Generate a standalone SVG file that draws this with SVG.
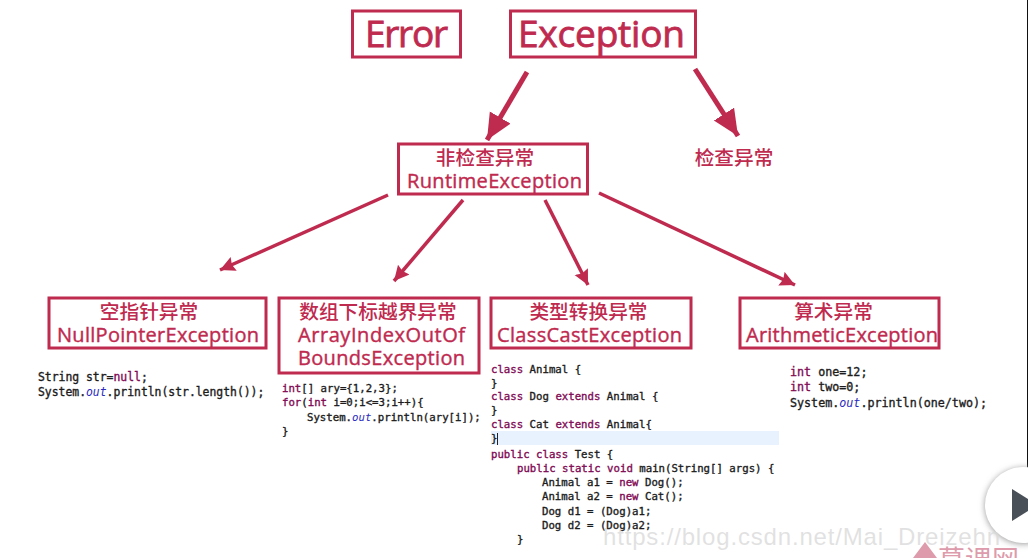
<svg xmlns="http://www.w3.org/2000/svg" width="1028" height="558" viewBox="0 0 1028 558">
<style>
.box{fill:none;stroke:#bf2a4f;stroke-width:3}
.t{fill:#bf2a4f;font-family:"Open Sans","Noto Sans CJK SC",sans-serif;text-anchor:middle;font-weight:500}
.l{font-size:20px;stroke:#bf2a4f;stroke-width:.4}.b{font-size:37px;stroke:#bf2a4f;stroke-width:.8}.cj{font-size:19.7px;font-weight:500}
.c{fill:#1c1c1c;font-family:"DejaVu Sans Mono","Noto Sans CJK SC",monospace;font-size:11.4px;stroke:#1c1c1c;stroke-width:.35}
.n{font-size:10.7px}.w{font-size:11.7px}
.k{fill:#7f0a55;stroke:#7f0a55}.o{fill:#2a2ac0;stroke:#2a2ac0;font-style:italic;stroke-width:0}
.a{stroke:#bf2a4f;stroke-width:5;fill:none;marker-end:url(#h)}
.s{stroke:#bf2a4f;stroke-width:3.5;fill:none;marker-end:url(#j)}
</style>
<defs>
<marker id="h" markerUnits="userSpaceOnUse" markerWidth="30" markerHeight="30" refX="26" refY="12" orient="auto"><path d="M0 0L26 12L0 24Z" fill="#bf2a4f"/></marker>
<marker id="j" markerUnits="userSpaceOnUse" markerWidth="20" markerHeight="20" refX="15" refY="8" orient="auto"><path d="M0 0.500L15 8L0 15.500L2 8Z" fill="#bf2a4f"/></marker>
<filter id="sh" x="-30%" y="-30%" width="160%" height="160%"><feGaussianBlur stdDeviation="3"/></filter>
</defs>
<rect width="1028" height="558" fill="#fff"/>
<path d="M1027.500 0V470" stroke="#111" fill="none"/>
<g id="connectors">
<path class="a" d="M527 72L487 140"/>
<path class="a" d="M695 69L738 136"/>
<path class="s" d="M388 195L220 270"/>
<path class="s" d="M463 200L394 281"/>
<path class="s" d="M545 200L588 285"/>
<path class="s" d="M599 193L795 285"/>
</g>
<g id="error"><rect class="box" x="352.500" y="11" width="108" height="46"/><text class="t b" x="406.500" y="47" textLength="83">Error</text></g>
<g id="exception"><rect class="box" x="510.500" y="11" width="185" height="46"/><text class="t b" x="601.500" y="47" textLength="167">Exception</text></g>
<g id="runtime"><rect class="box" x="398.500" y="144" width="189" height="50"/><text class="t cj" x="485" y="165">非检查异常</text><text class="t l" x="494.500" y="188" textLength="175">RuntimeException</text></g>
<g id="checked"><text class="t cj" x="734" y="165">检查异常</text></g>
<g id="npe"><rect class="box" x="49" y="298" width="217" height="50"/><text class="t cj" x="149" y="319">空指针异常</text><text class="t l" x="158" y="342" textLength="202">NullPointerException</text></g>
<g id="aioobe"><rect class="box" x="279" y="298" width="200" height="75"/><text class="t cj" x="378" y="319">数组下标越界异常</text><text class="t l" x="381.500" y="342" textLength="167">ArrayIndexOutOf</text><text class="t l" x="381.500" y="365" textLength="167">BoundsException</text></g>
<g id="cce"><rect class="box" x="491" y="298" width="200" height="50"/><text class="t cj" x="588.500" y="319">类型转换异常</text><text class="t l" x="589.500" y="342" textLength="185">ClassCastException</text></g>
<g id="ae"><rect class="box" x="740" y="298" width="199" height="50"/><text class="t cj" x="833.500" y="319">算术异常</text><text class="t l" x="842" y="342" textLength="192">ArithmeticException</text></g>
<g id="code1"><text class="c" x="38" y="381">String str=<tspan class="k">null</tspan>;</text><text class="c" x="38" y="396">System.<tspan class="o">out</tspan>.println(str.length());</text></g>
<g id="code2"><text class="c n" x="282" y="392"><tspan class="k">int</tspan>[] ary={1,2,3};</text><text class="c n" x="282" y="406"><tspan class="k">for</tspan>(<tspan class="k">int</tspan> i=0;i&lt;=3;i++){</text><text class="c n" x="307" y="421">System.<tspan class="o">out</tspan>.println(ary[i]);</text><text class="c n" x="282" y="435">}</text></g>
<g id="code3"><rect x="491" y="431" width="288" height="14" fill="#e8f2fe"/>
<text class="c n" x="491" y="373"><tspan class="k">class</tspan> Animal {</text><text class="c n" x="491" y="387">}</text><text class="c n" x="491" y="400"><tspan class="k">class</tspan> Dog <tspan class="k">extends</tspan> Animal {</text><text class="c n" x="491" y="414">}</text><text class="c n" x="491" y="428"><tspan class="k">class</tspan> Cat <tspan class="k">extends</tspan> Animal{</text><text class="c n" x="491" y="442">}</text><path d="M497.500 433V445" stroke="#222"/>
<text class="c n" x="491" y="458"><tspan class="k">public class</tspan> Test {</text><text class="c n" x="517" y="472"><tspan class="k">public static void</tspan> main(String[] args) {</text><text class="c n" x="542" y="486">Animal a1 = <tspan class="k">new</tspan> Dog();</text><text class="c n" x="542" y="500">Animal a2 = <tspan class="k">new</tspan> Cat();</text><text class="c n" x="542" y="515">Dog d1 = (Dog)a1;</text><text class="c n" x="542" y="529">Dog d2 = (Dog)a2;</text><text class="c n" x="517" y="543">}</text></g>
<g id="code4"><text class="c w" x="790" y="376"><tspan class="k">int</tspan> one=12;</text><text class="c w" x="790" y="391"><tspan class="k">int</tspan> two=0;</text><text class="c w" x="790" y="407">System.<tspan class="o">out</tspan>.println(one/two);</text></g>
<circle cx="1023" cy="506" r="38" fill="#999" filter="url(#sh)"/>
<circle cx="1023" cy="505" r="38" fill="#fff"/>
<path d="M1012 489L1028 499V511L1012 521Z" fill="#4a5058"/>
<text x="938" y="570" font-size="27" fill="#dd9bab" font-family="Noto Sans CJK SC,sans-serif">慕课网</text>
<path d="M913 558L925 542L937 558Z" fill="#dd9bab"/>
<text x="603" y="545" font-size="24" fill="#d8d8d8" fill-opacity=".75" font-family="Liberation Sans,sans-serif" textLength="397">https://blog.csdn.net/Mai_Dreizehn</text>
</svg>
